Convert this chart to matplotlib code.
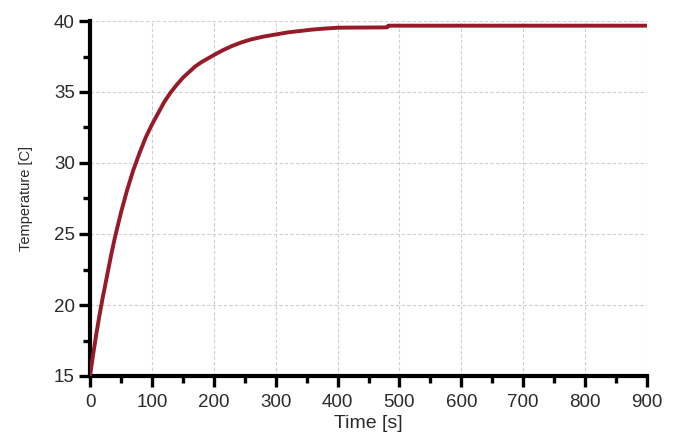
import matplotlib
matplotlib.use("Agg")
import matplotlib.pyplot as plt
from matplotlib.ticker import MultipleLocator

time_s = [0, 5, 10, 15, 20, 25, 30, 35, 40, 45, 50, 55, 60, 70, 80, 90, 100, 110, 120, 130,
          140, 150, 160, 170, 180, 190, 200, 215, 230, 245, 260, 280, 300, 320, 340, 360, 380,
          402, 480, 482, 600, 750, 900]
temp_c = [15.0, 16.5, 17.9, 19.2, 20.4, 21.5, 22.6, 23.7, 24.7, 25.6, 26.5, 27.3, 28.1, 29.5,
          30.7, 31.8, 32.7, 33.5, 34.3, 34.95, 35.5, 36.0, 36.4, 36.8, 37.1, 37.35, 37.6, 37.95,
          38.25, 38.5, 38.7, 38.9, 39.05, 39.2, 39.3, 39.4, 39.47, 39.53, 39.55, 39.67, 39.67,
          39.67, 39.67]

x_ticks = [0, 100, 200, 300, 400, 500, 600, 700, 800, 900]
y_ticks = [15, 20, 25, 30, 35, 40]

plt.rcParams['font.family'] = ['Liberation Sans', 'DejaVu Sans']

fig = plt.figure(figsize=(6.78, 4.33), dpi=100)
ax = fig.add_axes([90/678, 57/433, 557/678, 355/433])

ax.plot(time_s, temp_c, color='#961a28', linewidth=2.8, solid_joinstyle='round',
        solid_capstyle='butt', zorder=3)

ax.set_xlim(0, 900)
ax.set_ylim(15, 40)
ax.set_xticks(x_ticks)
ax.set_yticks(y_ticks)
ax.xaxis.set_minor_locator(MultipleLocator(50))
ax.yaxis.set_minor_locator(MultipleLocator(2.5))

ax.grid(True, which='major', color='#cfcfcf', linestyle=(0, (3, 2)), linewidth=0.8)
ax.set_axisbelow(True)

for side in ['top', 'right']:
    ax.spines[side].set_visible(False)
for side in ['left', 'bottom']:
    ax.spines[side].set_linewidth(3)
    ax.spines[side].set_color('black')

ax.tick_params(which='major', direction='out', length=8, width=2.4, color='black',
               labelsize=13.5, labelcolor='#2a2a2a')
ax.tick_params(axis='x', which='major', pad=5)
ax.tick_params(axis='y', which='major', pad=3)
ax.tick_params(which='minor', direction='out', length=5, width=2.4, color='black')

ax.set_xlabel('Time [s]', fontsize=14, color='#2a2a2a', labelpad=3)
ax.set_ylabel('Temperature [C]', fontsize=10.5, color='#2a2a2a', labelpad=15)

fig.savefig('out.png', dpi=100, facecolor='white')
